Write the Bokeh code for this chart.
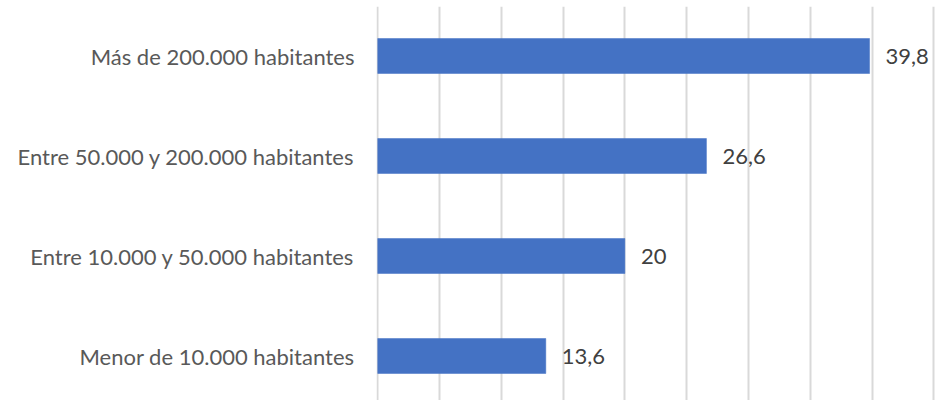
from bokeh.plotting import figure
from bokeh.models import ColumnDataSource, FixedTicker, Range1d
from bokeh.core.properties import value
from bokeh.embed import file_html
from bokeh.resources import INLINE

# Data (bottom to top)
categories = [
    "Menor de 10.000 habitantes",
    "Entre 10.000 y 50.000 habitantes",
    "Entre 50.000 y 200.000 habitantes",
    "Más de 200.000 habitantes",
]
values = [13.6, 20, 26.6, 39.8]
x_ticks = [0, 5, 10, 15, 20, 25, 30, 35, 40, 45]

positions = list(range(len(categories)))
labels = [f"{v:g}".replace(".", ",") for v in values]

source = ColumnDataSource(dict(y=positions, v=values, lab=labels))

FONT = "Lato"

p = figure(
    width=938, height=400,
    output_backend="svg", toolbar_location=None,
    x_range=Range1d(-0.1, 45.38),
    y_range=Range1d(-0.445, 3.495),
    min_border_left=376, min_border_right=0,
    min_border_top=6, min_border_bottom=0,
)
p.outline_line_color = None
p.background_fill_color = "white"
p.border_fill_color = "white"

p.hbar(y="y", right="v", left=0, height=0.35, source=source,
       fill_color="#4472C4", line_color="#4472C4", line_width=0.5)

p.text(x="v", y="y", text="lab", source=source,
       x_offset=16, text_baseline="middle", text_align="left",
       text_font=value(FONT), text_font_size="22px", text_color="#404040")

# grids
p.ygrid.visible = False
p.xgrid.ticker = FixedTicker(ticks=x_ticks)
p.xgrid.grid_line_color = "#D9D9D9"
p.xgrid.grid_line_width = 2

# axes
p.xaxis.visible = False
yax = p.yaxis[0]
yax.ticker = FixedTicker(ticks=positions)
yax.major_label_overrides = {i: c for i, c in zip(positions, categories)}
yax.axis_line_color = None
yax.major_tick_line_color = None
yax.minor_tick_line_color = None
yax.major_tick_out = 0
yax.major_tick_in = 0
yax.major_label_standoff = 22
yax.major_label_text_font = FONT
yax.major_label_text_font_size = "22px"
yax.major_label_text_color = "#595959"

open("out.html", "w").write(file_html(p, INLINE))
